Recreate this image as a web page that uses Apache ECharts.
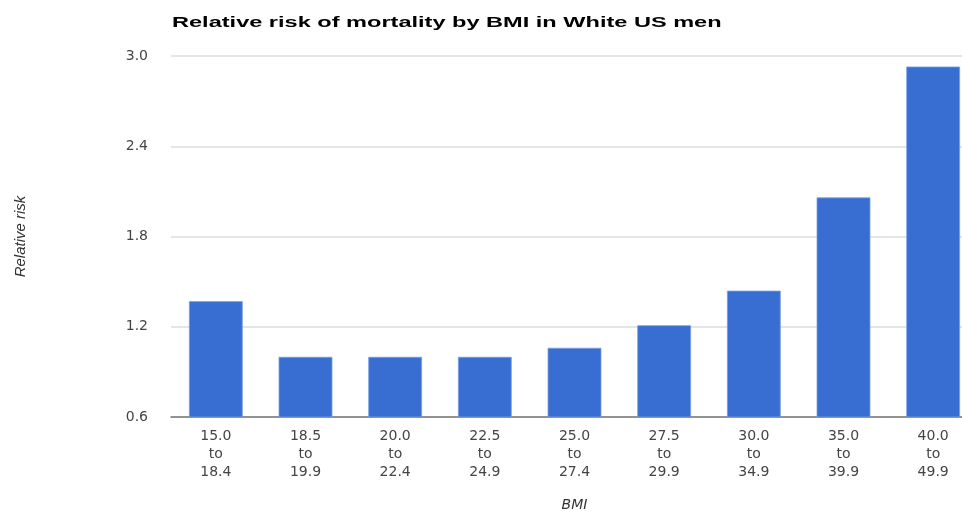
<!DOCTYPE html>
<html>
<head>
<meta charset="utf-8">
<title>Relative risk of mortality by BMI in White US men</title>
<script src="https://cdn.jsdelivr.net/npm/echarts@6/dist/echarts.min.js"></script>
<style>
  html, body { margin: 0; padding: 0; width: 100%; height: 100%; overflow: hidden; background: #ffffff; }
  #chart { width: 100vw; height: 100vh; }
</style>
</head>
<body>
<div id="chart"></div>
<script>
// BMI bands (lower bound, upper bound) shown as three-line category labels
const bmiFrom = ['15.0', '18.5', '20.0', '22.5', '25.0', '27.5', '30.0', '35.0', '40.0'];
const bmiTo   = ['18.4', '19.9', '22.4', '24.9', '27.4', '29.9', '34.9', '39.9', '49.9'];

// Relative risk of mortality for each BMI band
const relativeRisk = [1.37, 1.00, 1.00, 1.00, 1.06, 1.21, 1.44, 2.06, 2.93];

// Value axis ticks
const riskTicks = [0.6, 1.2, 1.8, 2.4, 3.0];

const chartTitle = 'Relative risk of mortality by BMI in White US men';

const categories = bmiFrom.map((from, i) => from + '\nto\n' + bmiTo[i]);

const chart = echarts.init(document.getElementById('chart'), null, { renderer: 'canvas' });

const labelFont = 'DejaVu Sans, Liberation Sans, Arial, sans-serif';
const arialLike = 'Liberation Sans, Arial, sans-serif';

chart.setOption({
  backgroundColor: '#ffffff',
  animation: false,
  // Wide, heavy heading drawn as a horizontally stretched text element
  graphic: [{
    type: 'text',
    left: 172,
    top: 15,
    scaleX: 1.57,
    style: {
      text: chartTitle,
      font: 'bold 15px ' + arialLike,
      fill: '#000000'
    }
  }],
  grid: {
    left: 171,
    top: 56,
    right: -16,
    bottom: 94,
    containLabel: false,
    outerBoundsMode: 'none'
  },
  xAxis: {
    type: 'category',
    data: categories,
    name: 'BMI',
    nameLocation: 'middle',
    nameGap: 81,
    nameTextStyle: {
      fontFamily: labelFont,
      fontSize: 14,
      fontStyle: 'italic',
      color: '#333333'
    },
    axisTick: { show: false },
    axisLine: { lineStyle: { color: '#777777', width: 1.5 } },
    axisLabel: {
      interval: 0,
      margin: 10,
      lineHeight: 18,
      fontFamily: labelFont,
      fontSize: 14,
      color: '#444444'
    }
  },
  yAxis: {
    type: 'value',
    min: riskTicks[0],
    max: riskTicks[riskTicks.length - 1],
    interval: 0.6,
    name: 'Relative risk',
    nameLocation: 'middle',
    nameGap: 143,
    nameTextStyle: {
      fontFamily: arialLike,
      fontSize: 15,
      fontStyle: 'italic',
      color: '#333333'
    },
    axisLine: { show: false },
    axisTick: { show: false },
    splitLine: { lineStyle: { color: '#dddddd', width: 1.5 } },
    axisLabel: {
      margin: 23,
      fontFamily: labelFont,
      fontSize: 14,
      color: '#444444',
      formatter: v => v.toFixed(1)
    }
  },
  series: [{
    type: 'bar',
    data: relativeRisk,
    barCategoryGap: '40%',
    itemStyle: {
      color: '#386ed1',
      borderColor: '#7ea0e4',
      borderWidth: 0.8
    }
  }]
});
window.addEventListener('resize', () => chart.resize());
</script>
</body>
</html>
